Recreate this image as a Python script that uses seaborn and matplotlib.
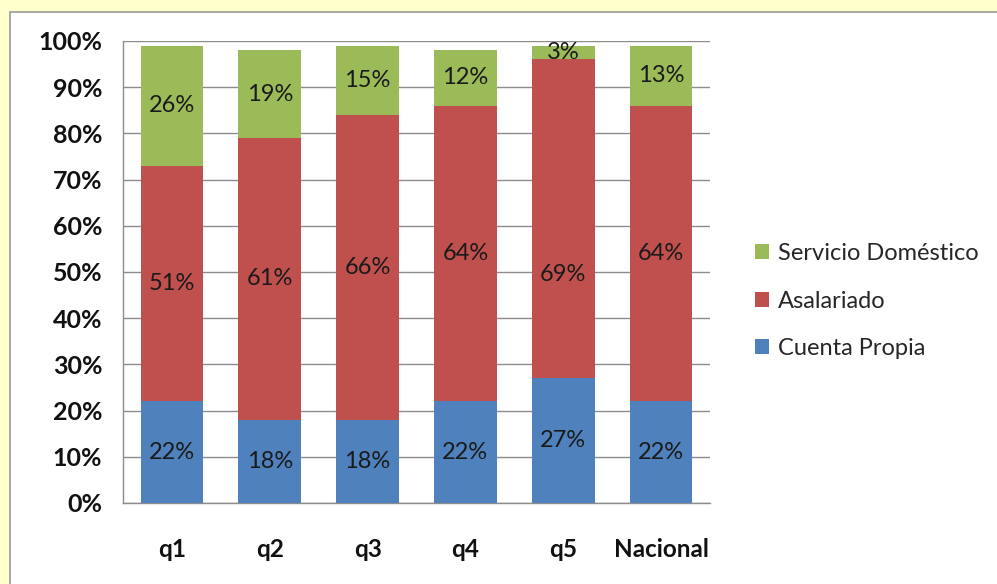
import matplotlib
matplotlib.use("Agg")
import matplotlib.pyplot as plt
from matplotlib.patches import Rectangle, Patch
from matplotlib.ticker import PercentFormatter
import seaborn as sns
import pandas as pd
import numpy as np

# Distribution of employment type by income quintile
categories = ["q1", "q2", "q3", "q4", "q5", "Nacional"]
cuenta_propia = [22, 18, 18, 22, 27, 22]
asalariado = [51, 61, 66, 64, 69, 64]
servicio_domestico = [26, 19, 15, 12, 3, 13]
series_names = ["Cuenta Propia", "Asalariado", "Servicio Doméstico"]
colors = ["#4F81BD", "#C0504D", "#9BBB59"]

sns.set_theme(style="white")
plt.rcParams["font.family"] = ["Lato", "DejaVu Sans"]

df = pd.DataFrame({
    "cat": categories,
    "cp": cuenta_propia,
    "as": asalariado,
    "sd": servicio_domestico,
})
df["top_as"] = df["cp"] + df["as"]
df["top_sd"] = df["top_as"] + df["sd"]

fig = plt.figure(figsize=(9.97, 5.84), dpi=100)
fig.patch.set_facecolor("#FFFFCC")

# white chart panel with thin grey frame
panel = Rectangle((10 / 997, -0.01), 1.0, 1 - 12 / 584 + 0.01,
                  transform=fig.transFigure, facecolor="white",
                  edgecolor="#9A9A9A", linewidth=1.2, zorder=-10)
fig.patches.append(panel)

ax = fig.add_axes([123 / 997, 1 - 503 / 584, (710 - 123) / 997, (503 - 41) / 584])
ax.set_facecolor("none")

width = 0.64
for col, color in zip(["top_sd", "top_as", "cp"], colors[::-1]):
    sns.barplot(data=df, x="cat", y=col, color=color, width=width,
                saturation=1, ax=ax, zorder=3, edgecolor="none")

ax.set_ylim(0, 100)
ax.set_yticks(np.arange(0, 101, 10))
ax.yaxis.set_major_formatter(PercentFormatter(decimals=0))
ax.set_xlabel("")
ax.set_ylabel("")
ax.grid(axis="y", color="#8C8C8C", linewidth=1.0, zorder=0)
ax.set_axisbelow(True)
for side in ["top", "right"]:
    ax.spines[side].set_visible(False)
for side in ["left", "bottom"]:
    ax.spines[side].set_color("#8C8C8C")
    ax.spines[side].set_linewidth(1.0)
ax.tick_params(axis="y", length=0, pad=15, labelsize=18, labelcolor="#111111")
ax.tick_params(axis="x", length=0, pad=25, labelsize=17.5, labelcolor="#111111")
for lab in ax.get_yticklabels() + ax.get_xticklabels():
    lab.set_fontweight("bold")

# segment value labels (the q5 salaried label sits a little below centre)
label_nudge = {(4, 1): -12}
for i in range(len(categories)):
    bottoms = [0, cuenta_propia[i], cuenta_propia[i] + asalariado[i]]
    vals = [cuenta_propia[i], asalariado[i], servicio_domestico[i]]
    for j, (b, v) in enumerate(zip(bottoms, vals)):
        y = b + v / 2 + label_nudge.get((i, j), 0)
        ax.text(i, y, f"{v}%", ha="center", va="center",
                fontsize=17, color="#1A1A1A", zorder=5)

handles = [Patch(facecolor=c, edgecolor="none") for c in colors[::-1]]
fig.legend(handles, series_names[::-1], loc="center left",
           bbox_to_anchor=(734 / 997, 1 - 301 / 584), frameon=False,
           fontsize=17, handlelength=0.6, handleheight=0.6,
           handletextpad=0.35, labelspacing=1.12)

fig.savefig("out.png", dpi=100, facecolor=fig.get_facecolor())
